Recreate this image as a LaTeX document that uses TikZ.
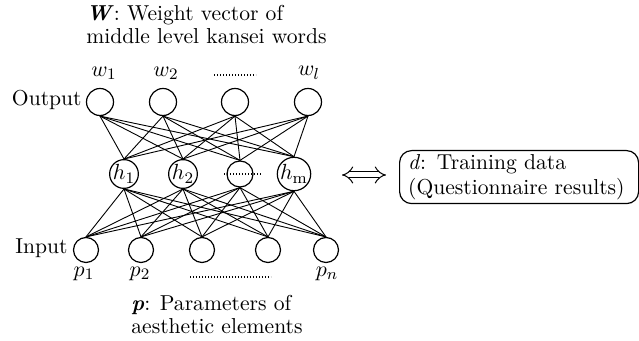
\documentclass[tikz,border=0pt]{standalone}
\usepackage{amsmath}
\usetikzlibrary{arrows.meta}
\begin{document}
\begin{tikzpicture}[x=0.5pt,y=-0.5pt,
  every node/.style={font=\fontsize{10.8}{11.5}\selectfont},
  outnode/.style={circle,draw,line width=0.6pt,minimum size=13.5pt,inner sep=0pt},
  hidnode/.style={circle,draw,line width=0.6pt,minimum size=13pt,inner sep=0pt},
  innode/.style={circle,draw,line width=0.6pt,minimum size=12.5pt,inner sep=0pt},
  conn/.style={line width=0.45pt},
  dots/.style={line width=1pt,dash pattern=on 0.6pt off 0.9pt},
  lbl/.style={inner sep=0pt}]
\useasboundingbox (0,0) rectangle (639,341);
% title
\node[lbl,anchor=north west,align=left] (title) at (86,5)
  {\textbf{\textit{W}}: Weight vector of\\middle level kansei words};
% output layer
\node[outnode] (o1) at (100,102) {};
\node[outnode] (o2) at (163,102) {};
\node[outnode] (o3) at (235,102) {};
\node[outnode] (o4) at (308,102) {};
\node[lbl,anchor=east] (outlbl) at (82,100) {Output};
\node[lbl] (w1) at (104,73) {$w_1$};
\node[lbl] (w2) at (166,73) {$w_2$};
\node[lbl] (wl) at (309,73) {$w_l$};
\coordinate (wdA) at (214,75);
\coordinate (wdB) at (256,75);
\draw[dots] (wdA) -- (wdB);
% hidden layer
\node[hidnode] (h1) at (124,174) {$h_1$};
\node[hidnode] (h2) at (183,174) {$h_2$};
\node[hidnode] (h3) at (240,174) {};
\node[hidnode] (h4) at (294,174) {$h_{\mathrm{m}}$};
\coordinate (hdA) at (224,174);
\coordinate (hdB) at (261,174);
\draw[dots] (hdA) -- (hdB);
% input layer
\node[innode] (i1) at (86,250) {};
\node[innode] (i2) at (141,250) {};
\node[innode] (i3) at (202,250) {};
\node[innode] (i4) at (268,250) {};
\node[innode] (i5) at (326,250) {};
\node[lbl,anchor=east] (inlbl) at (68,248) {Input};
\node[lbl] (p1) at (84,274) {$p_1$};
\node[lbl] (p2) at (140,274) {$p_2$};
\node[lbl] (pn) at (327,274) {$p_n$};
\coordinate (pdA) at (190,277);
\coordinate (pdB) at (271,277);
\draw[dots] (pdA) -- (pdB);
% connections
\foreach \o in {o1,o2,o3,o4}
  \foreach \h in {h1,h2,h3,h4}
    \draw[conn] (\o.south) -- (\h.north);
\foreach \h in {h1,h2,h3,h4}
  \foreach \i in {i1,i2,i3,i4,i5}
    \draw[conn] (\h.south) -- (\i.north);
% bottom caption
\node[lbl,anchor=north west,align=left] (pcap) at (131,295)
  {\textbf{\textit{p}}: Parameters of\\aesthetic elements};
% training data box
\node[draw,rounded corners=6pt,line width=0.6pt,align=left,anchor=north west,
  font=\fontsize{10.8}{12.2}\selectfont,
  minimum width=119.5pt,minimum height=26.5pt,inner xsep=4pt,inner ysep=0pt,text width=111pt] (box) at (399,150)
  {\textit{d}: Training data\\(Questionnaire results)};
\coordinate (arL) at (342,175);
\coordinate (arR) at (386,175);
\draw[double,double distance=2.5pt,line width=0.5pt,{Implies[scale=1.3]}-{Implies[scale=1.3]}] (arL) -- (arR);
\end{tikzpicture}
\end{document}
